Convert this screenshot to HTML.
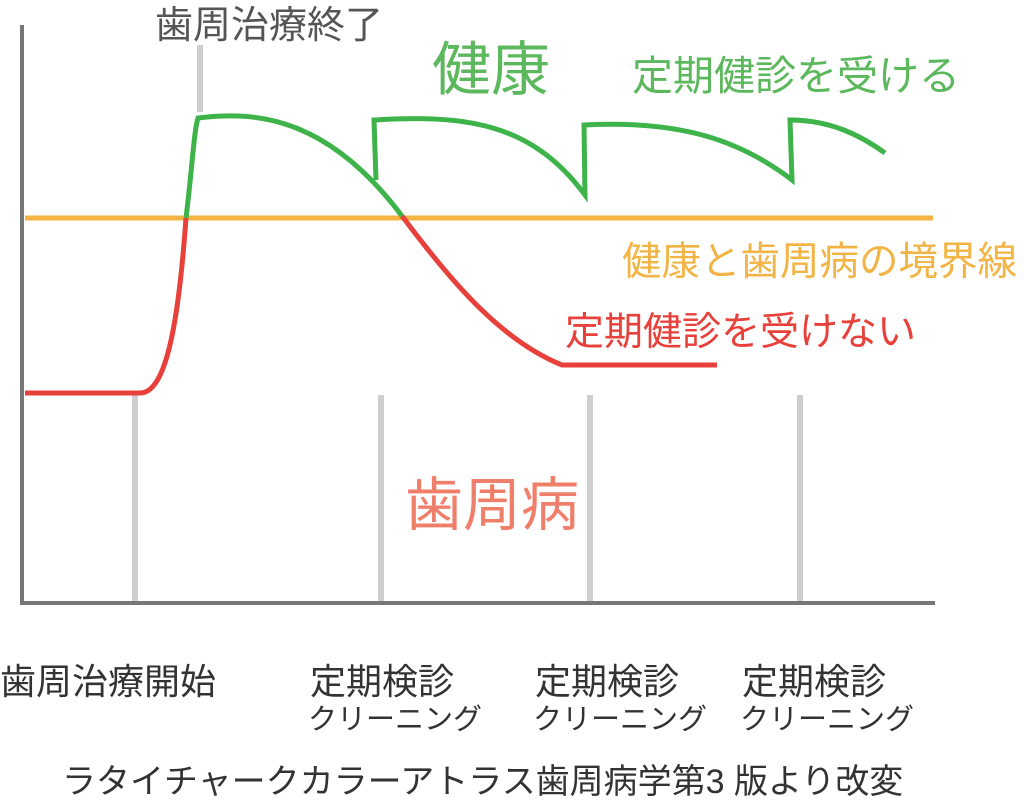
<!DOCTYPE html>
<html><head><meta charset="utf-8"><style>
html,body{margin:0;padding:0;background:#fff;}
svg{display:block;}
text{font-family:"Liberation Sans","Noto Sans CJK JP",sans-serif;}
</style></head><body>
<svg width="1024" height="809" viewBox="0 0 1024 809" xmlns="http://www.w3.org/2000/svg">
<rect width="1024" height="809" fill="#fff"/>
<g stroke="#cfcfcf" stroke-width="6">
<line x1="200" y1="45" x2="200" y2="112"/>
<line x1="135" y1="395" x2="135" y2="605"/>
<line x1="381" y1="395" x2="381" y2="605"/>
<line x1="590" y1="395" x2="590" y2="605"/>
<line x1="800" y1="395" x2="800" y2="605"/>
</g>
<line x1="22" y1="25" x2="22" y2="604" stroke="#777" stroke-width="4"/>
<line x1="20" y1="603" x2="935" y2="603" stroke="#777" stroke-width="4"/>
<line x1="25" y1="218" x2="933" y2="218" stroke="#f2b445" stroke-width="5"/>
<path d="M25,393 L140,393 C165,393 178,330 186,218" fill="none" stroke="#e8403a" stroke-width="5"/>
<path d="M402,216 C450,280 500,340 562,365 L717,365" fill="none" stroke="#e8403a" stroke-width="5"/>
<path d="M186,218 C192,170 194,130 198,118 C260,110 330,120 402,216" fill="none" stroke="#3db34a" stroke-width="5"/>
<path d="M376,180 L374,120 C460,115 530,120 585,195 L584,125 C680,120 740,140 792,180 L790,120 C830,120 860,135 885,153" fill="none" stroke="#3db34a" stroke-width="5"/>
<text x="155" y="38" font-size="38" fill="#555">歯周治療終了</text>
<text x="432" y="90" font-size="59" fill="#5cb85c">健康</text>
<text x="632" y="90" font-size="41" fill="#5cb85c">定期健診を受ける</text>
<text x="622" y="275" font-size="39.5" fill="#f2b445">健康と歯周病の境界線</text>
<text x="565" y="345" font-size="39" fill="#e8403a">定期健診を受けない</text>
<text x="405" y="525" font-size="58" fill="#ef7f6a">歯周病</text>
<g fill="#333">
<text x="0" y="694" font-size="36">歯周治療開始</text>
<text x="310" y="694" font-size="36">定期検診</text>
<text x="308" y="729" font-size="29">クリーニング</text>
<text x="535" y="694" font-size="36">定期検診</text>
<text x="533" y="729" font-size="29">クリーニング</text>
<text x="742" y="694" font-size="36">定期検診</text>
<text x="740" y="729" font-size="29">クリーニング</text>
<text x="62" y="793" font-size="34">ラタイチャークカラーアトラス歯周病学第3 版より改変</text>
</g>
</svg>
</body></html>
